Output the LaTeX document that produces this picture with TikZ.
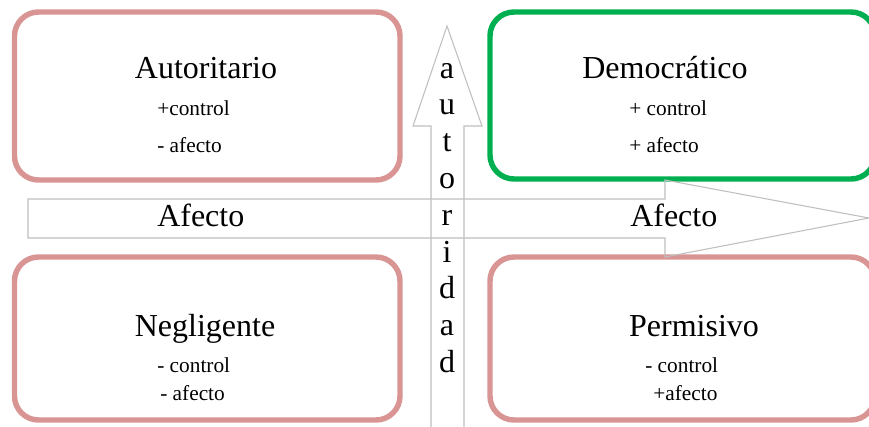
\documentclass[tikz,border=0pt]{standalone}
\usepackage{fontspec}
\setmainfont{Liberation Serif}
\definecolor{boxpink}{HTML}{D99594}
\definecolor{boxgreen}{HTML}{00B050}
\definecolor{arrowgrey}{HTML}{BFBFBF}
\begin{document}
\begin{tikzpicture}[x=0.75pt,y=-0.75pt,
  quad/.style={line width=4.1pt, rounded corners=18pt},
  bigarrow/.style={draw=arrowgrey, line width=0.8pt, line join=miter},
  title/.style={font=\fontsize{24}{28}\selectfont, inner sep=0pt, anchor=base},
  small/.style={font=\fontsize{16}{19}\selectfont, inner sep=0pt, anchor=base west},
  letter/.style={font=\fontsize{24}{28}\selectfont, inner sep=0pt, anchor=base}]
\useasboundingbox (0,0) rectangle (869,426);
\clip (0,0) rectangle (869,426);
% boxes
\draw[quad, boxpink] (14.5,12) rectangle (400,180);
\draw[quad, boxgreen] (490,12) rectangle (875,179);
\draw[quad, boxpink] (14.5,257) rectangle (400,420);
\draw[quad, boxpink] (490,257) rectangle (875,420);
% horizontal arrow
\draw[bigarrow] (665,199) -- (28,199) -- (28,238) -- (665,238) -- (665,257) -- (869,218) -- (665,180) -- cycle;
% vertical arrow
\draw[bigarrow] (431,427) -- (431,126) -- (413,126) -- (447,26) -- (482,126) -- (464,126) -- (464,427);
% vertical letters
\foreach \l [count=\i from 0] in {a,u,t,o,r,i,d,a,d}
  \node[letter] (v\i) at (447,{78+36.8*\i}) {\l};
% texts
\node[title] (t1) at (206,78) {Autoritario};
\node[small] (t1a) at (157,115) {+control};
\node[small] (t1b) at (157,152) {- afecto};
\node[title] (t2) at (665,78) {Democrático};
\node[small] (t2a) at (629,115) {+ control};
\node[small] (t2b) at (629,152) {+ afecto};
\node[title] (t3) at (205,336) {Negligente};
\node[small] (t3a) at (157,372) {- control};
\node[small] (t3b) at (160,400) {- afecto};
\node[title] (t4) at (694,336) {Permisivo};
\node[small] (t4a) at (645,372) {- control};
\node[small] (t4b) at (653,400) {+afecto};
\node[title, anchor=base west] (h1) at (157,226) {Afecto};
\node[title, anchor=base west] (h2) at (630,226) {Afecto};
\end{tikzpicture}
\end{document}
